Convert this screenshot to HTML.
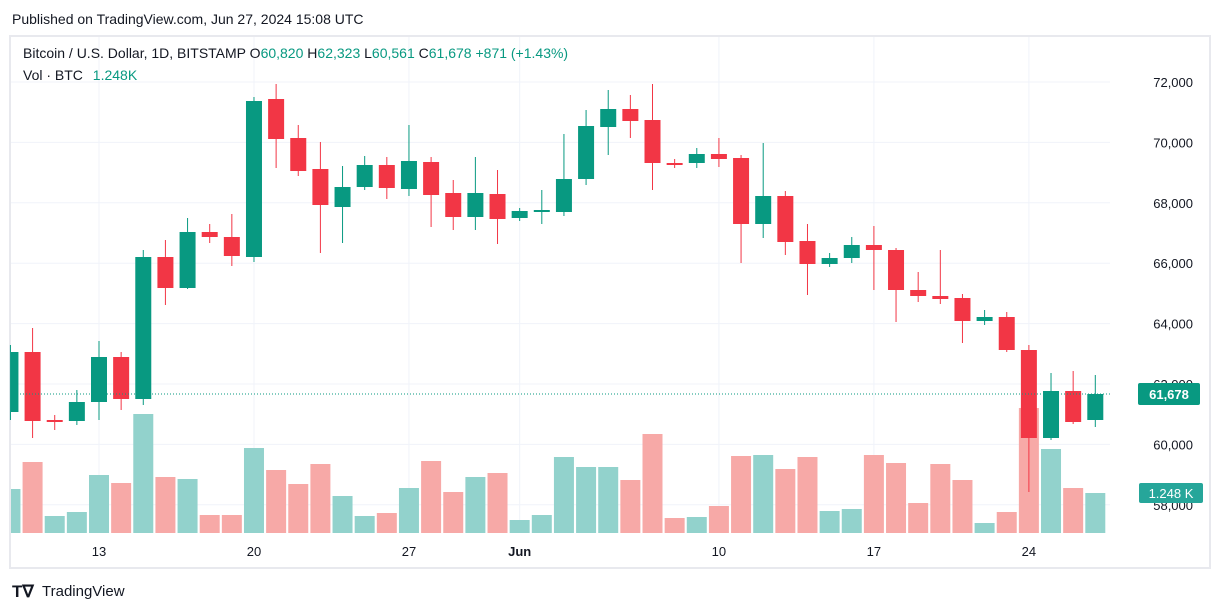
<!DOCTYPE html>
<html><head><meta charset="utf-8"><style>
body{margin:0;background:#fff;width:1222px;height:612px;overflow:hidden;font-family:"Liberation Sans",sans-serif}
svg{position:absolute;left:0;top:0}
</style></head><body>
<svg id="s" width="1222" height="612" xmlns="http://www.w3.org/2000/svg" font-family="Liberation Sans, sans-serif"></svg>
<script>
const s=document.getElementById('s');let h='';
h+='<rect x="10" y="36" width="1200" height="532" fill="#fff" stroke="#e8e9ee" stroke-width="2"/>';
for(let p=58000;p<=72000;p+=2000){const y=82+(72000-p)*0.0302;h+=`<line x1="11" x2="1110" y1="${y}" y2="${y}" stroke="#f0f3fa"/>`;}
const X=d=>99+(d-13)*22.14;
[[13,'13'],[20,'20'],[27,'27'],[32,'Jun'],[41,'10'],[48,'17'],[55,'24']].forEach(([d,t])=>{const x=X(d);h+=`<line x1="${x}" x2="${x}" y1="37" y2="533" stroke="#f0f3fa"/><text x="${x}" y="556" font-size="13" fill="#131722" text-anchor="middle" ${t=='Jun'?'font-weight="bold"':''}>${t}</text>`;});
const C=[['g',352,412,345,420],['r',352,421,328,438],['r',420,422,415,430],['g',402,421,390,425],['g',357,402,341,420],['r',357,399,352,410],['g',257,399,250,405],['r',257,288,240,305],['g',232,288,218,289],['r',232,237,224,243],['r',237,256,214,266],['g',101,257,97,262],['r',99,139,84,168],['r',138,171,125,176],['r',169,205,142,253],['g',187,207,166,243],['g',165,187,156,190],['r',165,188,157,199],['g',161,189,125,196],['r',162,195,157,227],['r',193,217,180,230],['g',193,217,157,230],['r',194,219,170,244],['g',211,218,208,221],['g',210,212,190,224],['g',179,212,134,216],['g',126,179,110,185],['g',109,127,90,155],['r',109,121,95,138],['r',120,163,84,190],['r',163,165,159,168],['g',154,163,148,168],['r',154,159,138,167],['r',158,224,155,263],['g',196,224,143,238],['r',196,242,191,255],['r',241,264,224,295],['g',258,264,253,267],['g',245,258,237,263],['r',245,250,226,290],['r',250,290,248,322],['r',290,296,272,302],['r',296,299,250,304],['r',298,321,294,343],['g',317,321,310,325],['r',317,350,312,352],['r',350,438,345,492],['g',391,438,373,440],['r',391,422,371,424],['g',394,420,375,427]];
const V=[['g',489],['r',462],['g',516],['g',512],['g',475],['r',483],['g',414],['r',477],['g',479],['r',515],['r',515],['g',448],['r',470],['r',484],['r',464],['g',496],['g',516],['r',513],['g',488],['r',461],['r',492],['g',477],['r',473],['g',520],['g',515],['g',457],['g',467],['g',467],['r',480],['r',434],['r',518],['g',517],['r',506],['r',456],['g',455],['r',469],['r',457],['g',511],['g',509],['r',455],['r',463],['r',503],['r',464],['r',480],['g',523],['r',512],['r',408],['g',449],['r',488],['g',493]];
V.forEach((v,i)=>{const x=X(9+i);const x0=Math.max(11,x-10);h+=`<rect x="${x0}" y="${v[1]}" width="${x+10-x0}" height="${533-v[1]}" fill="${v[0]=='g'?'#92d2cc':'#f7a9a7'}"/>`;});
C.forEach((c,i)=>{const x=X(9+i);const col=c[0]=='g'?'#089981':'#f23645';const x0=Math.max(11,x-8);h+=`<line x1="${x}" x2="${x}" y1="${c[3]}" y2="${c[4]}" stroke="${col}"/><rect x="${x0}" y="${c[1]}" width="${x+8-x0}" height="${Math.max(1,c[2]-c[1])}" fill="${col}"/>`;});
for(let p=58000;p<=72000;p+=2000){const y=82+(72000-p)*0.0302;h+=`<text x="1193" y="${y+5}" font-size="13" fill="#131722" text-anchor="end">${(p/1000)},000</text>`;}
h+='<line x1="11" x2="1110" y1="394" y2="394" stroke="#089981" stroke-dasharray="1 2"/>';
h+='<rect x="1138" y="383" width="62" height="22" rx="2" fill="#089981"/><text x="1169" y="399" font-size="13" font-weight="bold" fill="#fff" text-anchor="middle">61,678</text>';
h+='<rect x="1139" y="483" width="64" height="20" rx="2" fill="#26a69a"/><text x="1171" y="498" font-size="13" fill="#fff" text-anchor="middle">1.248 K</text>';
h+='<text x="12" y="24" font-size="14" fill="#131722">Published on TradingView.com, Jun 27, 2024 15:08 UTC</text>';
h+='<text x="23" y="58" font-size="14" fill="#131722">Bitcoin / U.S. Dollar, 1D, BITSTAMP <tspan fill="#131722">O</tspan><tspan fill="#089981">60,820 </tspan><tspan fill="#131722">H</tspan><tspan fill="#089981">62,323 </tspan><tspan fill="#131722">L</tspan><tspan fill="#089981">60,561 </tspan><tspan fill="#131722">C</tspan><tspan fill="#089981">61,678 +871 (+1.43%)</tspan></text>';
h+='<text x="23" y="80" font-size="14" fill="#131722">Vol · BTC <tspan fill="#089981" dx="6">1.248K</tspan></text>';
h+='<text x="12" y="597" font-size="17" font-weight="bold" fill="#131722">T∇</text><text x="42" y="596" font-size="15" fill="#131722">TradingView</text>';
s.innerHTML=h;
</script>
</body></html>
